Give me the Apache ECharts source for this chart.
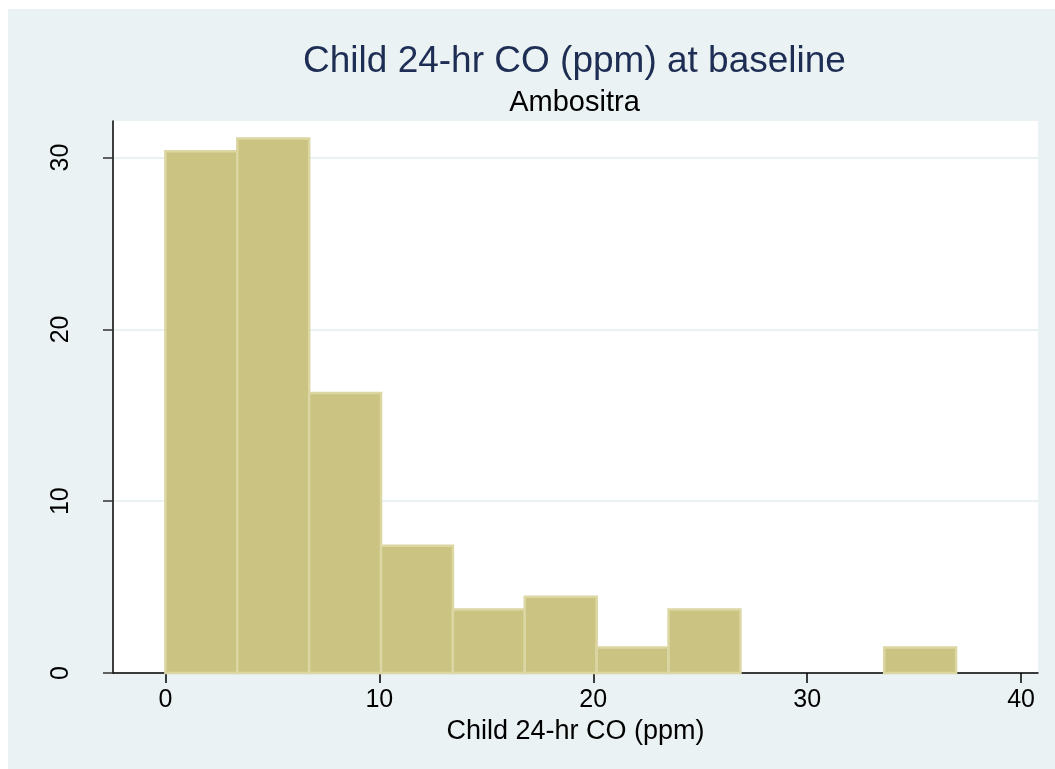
<!DOCTYPE html>
<html lang="en">
<head>
    <meta charset="UTF-8">
    <title>Child 24-hr CO (ppm) at baseline</title>
    <script src="https://cdn.jsdelivr.net/npm/echarts@6/dist/echarts.min.js"></script>
    <style>
        body { margin: 0; background: #ffffff; }
        #main { position: absolute; left: 8px; top: 9px; width: 1047px; height: 760px; }
    </style>
</head>
<body>
    <div id="main"></div>
    <script>
        // histogram bins (ppm) and percent of children in each bin
        var binEdges = [0, 3.36, 6.72, 10.08, 13.44, 16.8, 20.16, 23.52, 26.88, 30.24, 33.6, 36.96];
        var percents = [30.37, 31.11, 16.30, 7.41, 3.70, 4.44, 1.48, 3.70, 0, 0, 1.48];
        var xTicks = [0, 10, 20, 30, 40];
        var yTicks = [0, 10, 20, 30];

        var bars = [];
        for (var i = 0; i < percents.length; i++) {
            if (percents[i] > 0) {
                bars.push([binEdges[i], binEdges[i + 1], percents[i]]);
            }
        }

        var font = "'Liberation Sans', Arial, sans-serif";
        var myCharts = echarts.init(document.getElementById('main'));
        var option = {
            backgroundColor: '#eaf2f3',
            animation: false,
            title: {
                text: 'Child 24-hr CO (ppm) at baseline',
                subtext: 'Ambositra',
                left: 561.5,
                top: 29,
                textAlign: 'center',
                itemGap: 8,
                textStyle: { fontFamily: font, fontSize: 37, fontWeight: 'normal', color: '#1e2d53' },
                subtextStyle: { fontFamily: font, fontSize: 29, color: '#000000' }
            },
            grid: {
                left: 105,
                top: 112,
                width: 925,
                height: 552,
                show: true,
                backgroundColor: '#ffffff',
                borderWidth: 0
            },
            xAxis: {
                type: 'value',
                min: -2.45,
                max: 40.79,
                name: 'Child 24-hr CO (ppm)',
                nameLocation: 'middle',
                nameGap: 43,
                nameTextStyle: { fontFamily: font, fontSize: 27, color: '#000000' },
                axisLine: { onZero: false, lineStyle: { color: '#000000', width: 1.5 } },
                axisTick: { customValues: xTicks, length: 10, lineStyle: { color: '#000000', width: 1.5 } },
                axisLabel: { customValues: xTicks, margin: 15, fontFamily: font, fontSize: 25, color: '#000000' },
                splitLine: { show: false }
            },
            yAxis: {
                type: 'value',
                min: 0,
                max: 32.13,
                axisLine: { show: true, onZero: false, lineStyle: { color: '#000000', width: 1.5 } },
                axisTick: { show: true, customValues: yTicks, length: 10, lineStyle: { color: '#333333', width: 1.5 } },
                axisLabel: { customValues: yTicks, rotate: 90, margin: 39, fontFamily: font, fontSize: 25, color: '#000000' },
                splitLine: { show: true, lineStyle: { color: '#eaf2f3', width: 2 } }
            },
            series: [
                {
                    type: 'custom',
                    data: bars,
                    encode: { x: [0, 1], y: 2 },
                    renderItem: function (params, api) {
                        var topLeft = api.coord([api.value(0), api.value(2)]);
                        var bottomRight = api.coord([api.value(1), 0]);
                        return {
                            type: 'rect',
                            shape: {
                                x: topLeft[0],
                                y: topLeft[1],
                                width: bottomRight[0] - topLeft[0],
                                height: bottomRight[1] - topLeft[1]
                            },
                            style: { fill: '#cac382', stroke: '#dcd6a3', lineWidth: 2.5 }
                        };
                    }
                }
            ]
        };
        myCharts.setOption(option);
    </script>
</body>
</html>
